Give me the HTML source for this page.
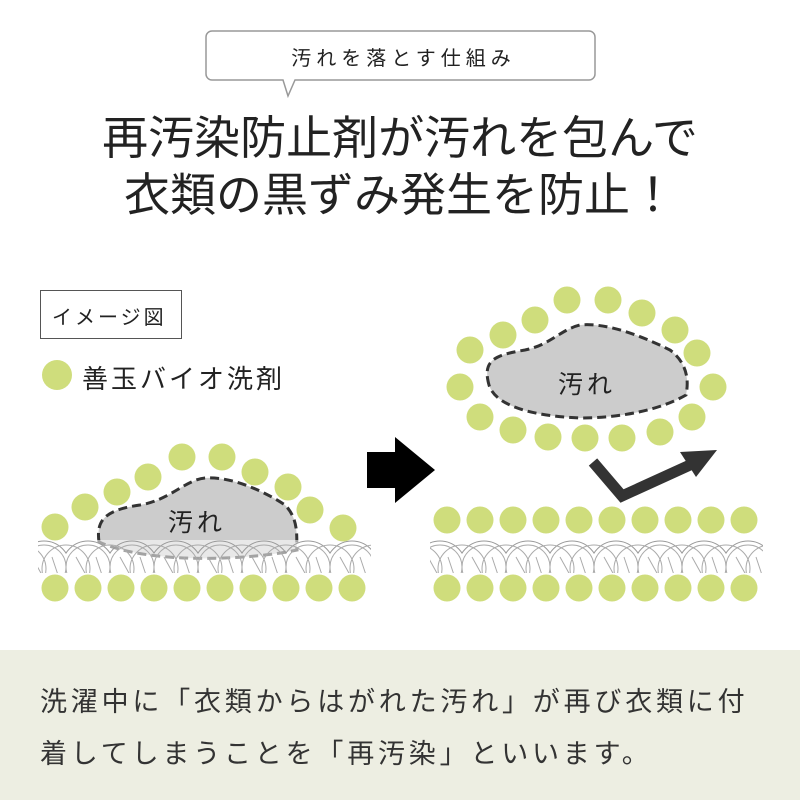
<!DOCTYPE html>
<html><head><meta charset="utf-8"><style>
body{margin:0;width:800px;height:800px;background:#fff;font-family:"Liberation Sans","Noto Sans CJK JP",sans-serif;overflow:hidden;position:relative}
.t{position:absolute;white-space:nowrap;color:#222}
</style></head><body>
<svg width="800" height="800" style="position:absolute;left:0;top:0">
<defs>
<pattern id="fab" x="22" y="537" width="44" height="40" patternUnits="userSpaceOnUse">
<circle cx="22" cy="30" r="26" fill="none" stroke="#999" stroke-width="1"/>
<circle cx="22" cy="30" r="22" fill="none" stroke="#aaa" stroke-width="1"/>
<circle cx="0" cy="32" r="24" fill="none" stroke="#aaa" stroke-width="1"/>
<circle cx="44" cy="32" r="24" fill="none" stroke="#aaa" stroke-width="1"/>
<line x1="10" y1="20" x2="20" y2="38" stroke="#aaa"/>
<line x1="30" y1="20" x2="36" y2="38" stroke="#aaa"/>
</pattern>
</defs>
<rect x="0" y="650" width="800" height="150" fill="#edeee2"/>
<path d="M212 31 H589 a6 6 0 0 1 6 6 V74 a6 6 0 0 1 -6 6 H295 L288 96 L283 80 H212 a6 6 0 0 1 -6 -6 V37 a6 6 0 0 1 6 -6Z" fill="#fff" stroke="#999" stroke-width="1.5"/>
<rect x="40.5" y="290.5" width="141" height="48" fill="#fff" stroke="#555" stroke-width="1"/>
<circle cx="57" cy="375" r="15" fill="#cfdd7c"/>
<path d="M99 542 C96 520 105 510 140 505 C170 500 185 480 205 478 C235 476 270 495 285 505 C300 520 296 540 297 550 C250 560 150 565 99 542Z" fill="#ccc" stroke="#333" stroke-width="3" stroke-dasharray="9,5"/>
<rect x="38" y="540" width="333" height="33" fill="#fff" opacity="0.55"/>
<rect x="38" y="540" width="333" height="33" fill="url(#fab)"/>
<g fill="#cfdd7c">
<circle cx="55" cy="527" r="13.5"/><circle cx="85" cy="507" r="13.5"/><circle cx="117" cy="492" r="13.5"/><circle cx="148" cy="477" r="13.5"/><circle cx="182" cy="457" r="13.5"/><circle cx="222" cy="457" r="13.5"/><circle cx="255" cy="472" r="13.5"/><circle cx="288" cy="487" r="13.5"/><circle cx="310" cy="510" r="13.5"/><circle cx="343" cy="528" r="13.5"/>
<circle cx="55" cy="588" r="13.5"/><circle cx="88" cy="588" r="13.5"/><circle cx="121" cy="588" r="13.5"/><circle cx="154" cy="588" r="13.5"/><circle cx="187" cy="588" r="13.5"/><circle cx="220" cy="588" r="13.5"/><circle cx="253" cy="588" r="13.5"/><circle cx="286" cy="588" r="13.5"/><circle cx="319" cy="588" r="13.5"/><circle cx="352" cy="588" r="13.5"/>
</g>
<path d="M367 452 H395 V437 L435 470 L395 503 V488 H367Z" fill="#000"/>
<rect x="430" y="540" width="333" height="33" fill="url(#fab)"/>
<g fill="#cfdd7c">
<circle cx="447" cy="520" r="13.5"/><circle cx="480" cy="520" r="13.5"/><circle cx="513" cy="520" r="13.5"/><circle cx="546" cy="520" r="13.5"/><circle cx="579" cy="520" r="13.5"/><circle cx="612" cy="520" r="13.5"/><circle cx="645" cy="520" r="13.5"/><circle cx="678" cy="520" r="13.5"/><circle cx="711" cy="520" r="13.5"/><circle cx="744" cy="520" r="13.5"/>
<circle cx="447" cy="588" r="13.5"/><circle cx="480" cy="588" r="13.5"/><circle cx="513" cy="588" r="13.5"/><circle cx="546" cy="588" r="13.5"/><circle cx="579" cy="588" r="13.5"/><circle cx="612" cy="588" r="13.5"/><circle cx="645" cy="588" r="13.5"/><circle cx="678" cy="588" r="13.5"/><circle cx="711" cy="588" r="13.5"/><circle cx="744" cy="588" r="13.5"/>
</g>
<path d="M489 385 C482 360 495 355 525 350 C550 345 560 330 580 325 C610 322 650 340 670 350 C690 365 688 385 686 395 C660 410 620 418 580 418 C530 416 495 405 489 385Z" fill="#ccc" stroke="#333" stroke-width="3" stroke-dasharray="9,5"/>
<g fill="#cfdd7c">
<circle cx="567" cy="300" r="13.5"/><circle cx="608" cy="300" r="13.5"/><circle cx="642" cy="313" r="13.5"/><circle cx="675" cy="330" r="13.5"/><circle cx="697" cy="353" r="13.5"/><circle cx="713" cy="387" r="13.5"/><circle cx="692" cy="417" r="13.5"/><circle cx="660" cy="432" r="13.5"/><circle cx="622" cy="438" r="13.5"/><circle cx="585" cy="438" r="13.5"/><circle cx="548" cy="437" r="13.5"/><circle cx="513" cy="430" r="13.5"/><circle cx="480" cy="417" r="13.5"/><circle cx="460" cy="387" r="13.5"/><circle cx="470" cy="350" r="13.5"/><circle cx="503" cy="335" r="13.5"/><circle cx="535" cy="320" r="13.5"/>
</g>
<polyline points="593,462 622,496 690,465" fill="none" stroke="#333" stroke-width="11"/>
<path d="M717 450 L680 452 L696 477Z" fill="#333"/>
</svg>
<div class="t" style="left:206px;top:42px;width:395px;text-align:center;font-size:20px;letter-spacing:5px">汚れを落とす仕組み</div>
<div class="t" style="left:0;top:110px;width:800px;text-align:center;font-size:46px;line-height:57px">再汚染防止剤が汚れを包んで<br>衣類の黒ずみ発生を防止！</div>
<div class="t" style="left:52px;top:301px;font-size:20px;letter-spacing:3px">イメージ図</div>
<div class="t" style="left:82px;top:359px;font-size:26px;letter-spacing:3px">善玉バイオ洗剤</div>
<div class="t" style="left:168px;top:503px;font-size:25px;letter-spacing:4px">汚れ</div>
<div class="t" style="left:558px;top:365px;font-size:25px;letter-spacing:4px">汚れ</div>
<div class="t" style="left:40px;top:676px;font-size:27px;letter-spacing:3.8px;line-height:52px;color:#333">洗濯中に「衣類からはがれた汚れ」が再び衣類に付<br>着してしまうことを「再汚染」といいます。</div>
</body></html>
